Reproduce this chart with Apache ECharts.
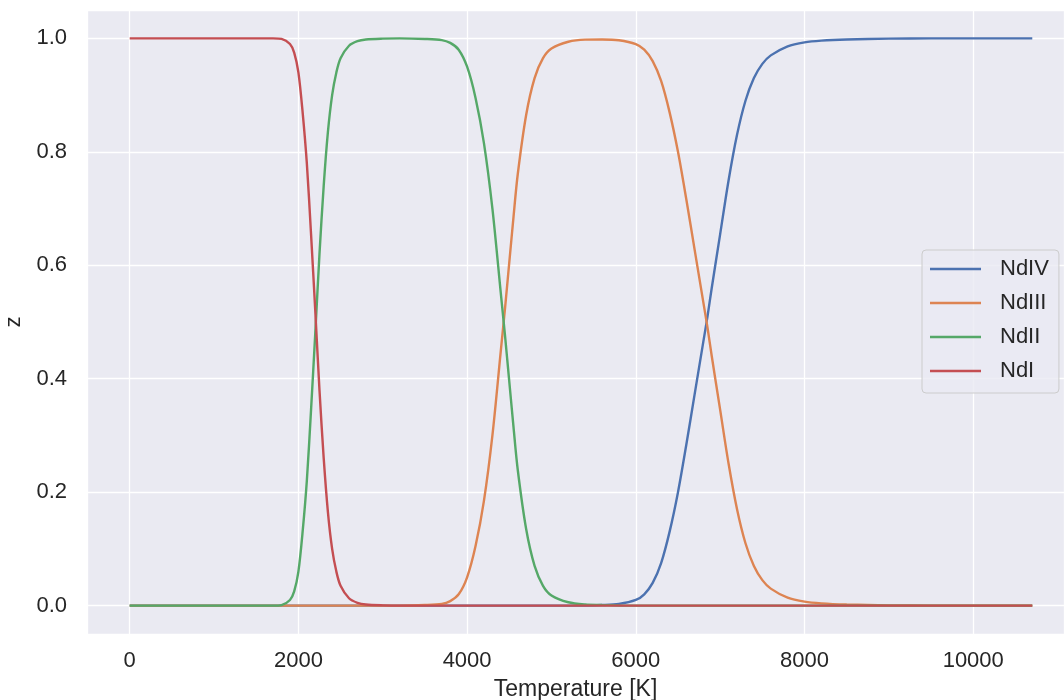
<!DOCTYPE html>
<html>
<head>
<meta charset="utf-8">
<title>Nd ionisation fractions</title>
<script src="https://cdn.jsdelivr.net/npm/echarts@6/dist/echarts.min.js"></script>
<style>
  html, body { margin: 0; padding: 0; background: #fff; }
  #chart { width: 1064px; height: 700px; }
</style>
</head>
<body>
<div id="chart"></div>
<script>
// temperature grid [K]
const temps = [0, 500, 1000, 1500, 1700, 1800, 1900, 1950, 2000, 2050,
  2100, 2150, 2200, 2250, 2300, 2350, 2400, 2450, 2500, 2600,
  2700, 2800, 3000, 3200, 3500, 3700, 3800, 3900, 4000, 4100,
  4200, 4300, 4400, 4450, 4500, 4550, 4600, 4700, 4800, 4900,
  5000, 5200, 5400, 5600, 5800, 6000, 6100, 6200, 6300, 6400,
  6500, 6600, 6700, 6800, 6850, 6900, 7000, 7100, 7200, 7300,
  7400, 7500, 7600, 7800, 8000, 8200, 8500, 9000, 9500, 10000, 10700]

// fractions
const ndIV = [0, 0, 0, 0, 0, 0, 0, 0, 0, 0,
  0, 0, 0, 0, 0, 0, 0, 0, 0, 0,
  0, 0, 0, 0, 0, 0, 0, 0, 0, 0,
  0, 0, 0, 0, 0, 0, 0, 0, 0, 0,
  0, 0, 0.0003, 0.001, 0.003, 0.01, 0.02, 0.04, 0.075, 0.13,
  0.2, 0.285, 0.375, 0.465, 0.51, 0.56, 0.655, 0.75, 0.83, 0.89,
  0.93, 0.955, 0.97, 0.986, 0.993, 0.996, 0.998, 0.9995, 1, 1, 1]

const ndIII = [0, 0, 0, 0, 0, 0, 0, 0, 0, 0,
  0, 0, 0, 0, 0, 0, 0, 0, 0, 0,
  0, 0, 0, 0, 0.001, 0.003, 0.008, 0.02, 0.05, 0.105,
  0.185, 0.3, 0.45, 0.525, 0.605, 0.685, 0.76, 0.865, 0.93, 0.965,
  0.982, 0.994, 0.9977, 0.998, 0.9967, 0.99, 0.98, 0.96, 0.925, 0.87,
  0.8, 0.715, 0.625, 0.535, 0.49, 0.44, 0.345, 0.25, 0.17, 0.11,
  0.07, 0.045, 0.03, 0.014, 0.007, 0.004, 0.002, 0.0005, 0, 0, 0]

const ndII = [0, 0, 0, 0, 0, 0.001, 0.01, 0.025, 0.06, 0.13,
  0.22, 0.345, 0.48, 0.62, 0.74, 0.835, 0.9, 0.94, 0.965, 0.987,
  0.995, 0.998, 0.9995, 1, 0.999, 0.997, 0.992, 0.98, 0.95, 0.895,
  0.815, 0.7, 0.55, 0.475, 0.395, 0.315, 0.24, 0.135, 0.07, 0.035,
  0.018, 0.006, 0.002, 0.001, 0.0003, 0, 0, 0, 0, 0,
  0, 0, 0, 0, 0, 0, 0, 0, 0, 0,
  0, 0, 0, 0, 0, 0, 0, 0, 0, 0, 0]

const ndI = [1, 1, 1, 1, 1, 0.999, 0.99, 0.975, 0.94, 0.87,
  0.78, 0.655, 0.52, 0.38, 0.26, 0.165, 0.1, 0.06, 0.035, 0.013,
  0.005, 0.002, 0.0005, 0, 0, 0, 0, 0, 0, 0,
  0, 0, 0, 0, 0, 0, 0, 0, 0, 0,
  0, 0, 0, 0, 0, 0, 0, 0, 0, 0,
  0, 0, 0, 0, 0, 0, 0, 0, 0, 0,
  0, 0, 0, 0, 0, 0, 0, 0, 0, 0, 0]

const seriesNames = ['NdIV', 'NdIII', 'NdII', 'NdI']
const seriesValues = [ndIV, ndIII, ndII, ndI]
const seriesColors = ['#4C72B0', '#DD8452', '#55A868', '#C44E52']

const font = "'Liberation Sans', Arial, sans-serif"
const chart = echarts.init(document.getElementById('chart'))

chart.setOption({
  animation: false,
  textStyle: { fontFamily: font },
  grid: {
    left: 87,
    right: 0,
    top: 10,
    bottom: 66,
    outerBoundsMode: 'none',
    containLabel: false,
    show: true,
    backgroundColor: '#EAEAF2',
    borderWidth: 0
  },
  legend: {
    orient: 'vertical',
    left: 922,
    top: 250,
    data: seriesNames,
    icon: 'rect',
    itemWidth: 51,
    itemHeight: 2.5,
    itemGap: 12,
    padding: [8, 10, 11, 8],
    backgroundColor: 'rgba(234,234,242,0.8)',
    borderColor: '#CCCCCC',
    borderWidth: 1,
    borderRadius: 4,
    textStyle: {
      fontFamily: font,
      fontSize: 22,
      lineHeight: 22,
      color: '#262626',
      padding: [0, 0, 0, 14]
    }
  },
  xAxis: {
    type: 'value',
    min: -506,
    max: 11076,
    splitNumber: 5,
    name: 'Temperature [K]',
    nameLocation: 'middle',
    nameGap: 44,
    nameTextStyle: { fontSize: 23, color: '#262626', fontFamily: font },
    axisLine: { show: false },
    axisTick: { show: false },
    axisLabel: {
      fontSize: 22,
      color: '#262626',
      margin: 16,
      showMinLabel: false,
      showMaxLabel: false,
      formatter: v => String(v)
    },
    splitLine: { show: true, lineStyle: { color: '#FFFFFF', width: 1.3 } }
  },
  yAxis: {
    type: 'value',
    min: -0.05,
    max: 1.05,
    splitNumber: 5,
    name: 'z',
    nameLocation: 'middle',
    nameGap: 62,
    nameRotate: 90,
    nameTextStyle: { fontSize: 22, color: '#262626', fontFamily: font },
    axisLine: { show: false },
    axisTick: { show: false },
    axisLabel: {
      fontSize: 22,
      color: '#262626',
      margin: 20,
      showMinLabel: false,
      showMaxLabel: false,
      formatter: v => v.toFixed(1)
    },
    splitLine: { show: true, lineStyle: { color: '#FFFFFF', width: 1.3 } }
  },
  series: seriesNames.map((name, i) => ({
    name: name,
    type: 'line',
    symbol: 'none',
    smooth: 0.3,
    color: seriesColors[i],
    lineStyle: { width: 2.4, color: seriesColors[i] },
    data: temps.map((t, k) => [t, seriesValues[i][k]])
  }))
})
</script>
</body>
</html>
